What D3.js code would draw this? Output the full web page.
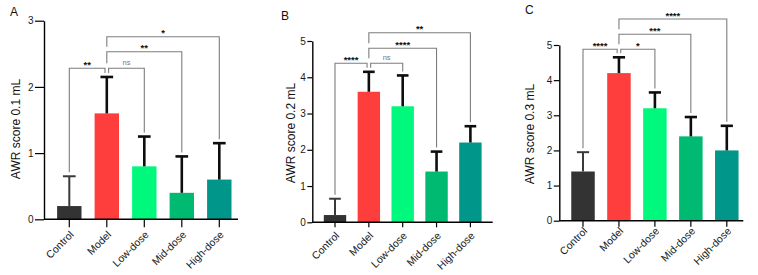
<!DOCTYPE html>
<html>
<head>
<meta charset="utf-8">
<script src="https://cdn.jsdelivr.net/npm/d3@7"></script>
<style>
  body { margin: 0; background: #fff; }
  svg { display: block; font-family: Arial, "Liberation Sans", sans-serif; }
</style>
</head>
<body>
<svg id="chart" width="758" height="275"></svg>
<script>
// groups on the x axis
const categories = ["Control", "Model", "Low-dose", "Mid-dose", "High-dose"];
const barColors = ["#333333", "#fe3d3d", "#00f87c", "#00ba72", "#00968a"];

// AWR scores, mean and SD for each volume
const meanA = [0.2, 1.6, 0.8, 0.4, 0.6];
const sdA = [0.45, 0.55, 0.45, 0.55, 0.55];
const meanB = [0.2, 3.6, 3.2, 1.4, 2.2];
const sdB = [0.45, 0.55, 0.85, 0.55, 0.45];
const meanC = [1.4, 4.2, 3.2, 2.4, 2.0];
const sdC = [0.55, 0.45, 0.45, 0.55, 0.7];

const ticksA = [0, 1, 2, 3];
const ticksB = [0, 1, 2, 3, 4, 5];
const ticksC = [0, 1, 2, 3, 4, 5];

// comparisons, all against Model
const pairs = [[0, 1], [1, 2], [1, 3], [1, 4]];
const sigA = ["**", "ns", "**", "*"];
const sigB = ["****", "ns", "****", "**"];
const sigC = ["****", "*", "***", "****"];

const svg = d3.select("#chart");

//layout of each panel
const panels = [
  { letter: "A", title: "AWR score 0.1 mL", mean: meanA, sd: sdA, ticks: ticksA, sig: sigA,
    axisX: 44, xEnd: 238, y0: 219.3, yTop: 20.7, c0: 69.3, step: 37.5, bw: 24.4,
    yTick: 9, xTick: 8, xLab: 15, letterPos: [10, 16], titlePos: [19.5, 129],
    levels: [68.3, 68.3, 51.7, 36.7] },
  { letter: "B", title: "AWR score 0.2 mL", mean: meanB, sd: sdB, ticks: ticksB, sig: sigB,
    axisX: 312.3, xEnd: 492.7, y0: 222.3, yTop: 41, c0: 335, step: 33.85, bw: 22.4,
    yTick: 5, xTick: 5, xLab: 13, letterPos: [281, 20], titlePos: [294.5, 133],
    levels: [63.3, 63.3, 48.3, 32.7] },
  { letter: "C", title: "AWR score 0.3 mL", mean: meanC, sd: sdC, ticks: ticksC, sig: sigC,
    axisX: 559.3, xEnd: 743.3, y0: 220.7, yTop: 45, c0: 583, step: 35.95, bw: 23.5,
    yTick: 5.5, xTick: 6, xLab: 10, letterPos: [525, 14], titlePos: [534, 134],
    levels: [49.3, 49.3, 34.3, 19] }
];

panels.forEach(p => drawPanel(p));

function drawPanel(p) {
  const g = svg.append("g");
  const pad = 1 - p.bw / p.step;
  const r0 = p.c0 - p.step / 2;

  const x = d3.scaleBand()
    .domain(categories)
    .range([r0, r0 + p.step * categories.length])
    .paddingInner(pad)
    .paddingOuter(pad / 2);

  const yMax = d3.max(p.ticks);
  const y = d3.scaleLinear().domain([0, yMax]).range([p.y0, p.yTop]);

  const cx = i => x(categories[i]) + x.bandwidth() / 2;
  const errTop = i => y(p.mean[i] + p.sd[i]);

  //bars
  g.selectAll("rect.bar")
    .data(categories)
    .enter()
    .append("rect")
    .attr("class", "bar")
    .attr("x", d => x(d))
    .attr("width", x.bandwidth())
    .attr("y", (d, i) => y(p.mean[i]))
    .attr("height", (d, i) => y(0) - y(p.mean[i]))
    .attr("fill", (d, i) => barColors[i]);

  //error bars, upper side only
  const capW = x.bandwidth() * 0.52;
  const err = g.selectAll("g.err")
    .data(categories)
    .enter()
    .append("g")
    .attr("stroke", (d, i) => i === 0 ? "#3a3a3a" : "#0d0d0d")
    .attr("stroke-width", (d, i) => i === 0 ? 2 : 2.6);
  err.append("line")
    .attr("x1", (d, i) => cx(i)).attr("x2", (d, i) => cx(i))
    .attr("y1", (d, i) => y(p.mean[i])).attr("y2", (d, i) => errTop(i));
  err.append("line")
    .attr("x1", (d, i) => cx(i) - capW / 2).attr("x2", (d, i) => cx(i) + capW / 2)
    .attr("y1", (d, i) => errTop(i)).attr("y2", (d, i) => errTop(i));

  //y axis
  const yAxis = g.append("g")
    .attr("transform", `translate(${p.axisX},0)`)
    .call(d3.axisLeft(y).tickValues(p.ticks).tickFormat(d3.format("d"))
      .tickSize(p.yTick).tickSizeOuter(0).tickPadding(1.5));
  yAxis.select(".domain").attr("stroke", "#000").attr("stroke-width", 1.4);
  yAxis.selectAll(".tick line").attr("stroke", "#000").attr("stroke-width", 1.2);
  yAxis.selectAll(".tick text").attr("font-size", 10).attr("fill", "#1a1a1a")
    .attr("font-family", "Arial, 'Liberation Sans', sans-serif");

  //x axis
  const xAxis = g.append("g")
    .attr("transform", `translate(0,${p.y0})`)
    .call(d3.axisBottom(x).tickSize(p.xTick).tickSizeOuter(0));
  xAxis.select(".domain").remove();
  xAxis.append("line")
    .attr("x1", p.axisX).attr("x2", p.xEnd)
    .attr("stroke", "#000").attr("stroke-width", 1.4);
  xAxis.selectAll(".tick line").attr("stroke", "#000").attr("stroke-width", 1.2);
  xAxis.selectAll(".tick text")
    .attr("font-size", 10.5).attr("fill", "#1a1a1a")
    .attr("font-family", "Arial, 'Liberation Sans', sans-serif")
    .attr("text-anchor", "end")
    .attr("y", 0).attr("dy", 0)
    .attr("transform", `translate(5,${p.xLab + 1}) rotate(-45)`);

  //axis title
  g.append("text")
    .attr("transform", `translate(${p.titlePos[0]},${p.titlePos[1]}) rotate(-90)`)
    .attr("text-anchor", "middle")
    .attr("font-size", 12)
    .attr("fill", "#111")
    .text(p.title);

  //panel letter
  g.append("text")
    .attr("x", p.letterPos[0]).attr("y", p.letterPos[1])
    .attr("font-size", 12)
    .attr("fill", "#111")
    .text(p.letter);

  //significance brackets
  pairs.forEach((pr, k) => {
    const lev = p.levels[k];
    let xa = cx(pr[0]), xb = cx(pr[1]);
    let ya, yb;
    if (k === 0) {
      xb -= 1.8;
      ya = errTop(pr[0]) - 4;
      yb = errTop(pr[1]) - 4;
    } else if (k === 1) {
      xa += 1.8;
      ya = errTop(pr[0]) - 4;
      yb = errTop(pr[1]) - 4;
    } else {
      ya = p.levels[k - 1] - 5;
      yb = errTop(pr[1]) - 4;
    }
    g.append("path")
      .attr("d", `M${xa},${ya}V${lev}H${xb}V${yb}`)
      .attr("fill", "none")
      .attr("stroke", "#7d7d7d")
      .attr("stroke-width", 1.1);

    const lab = p.sig[k];
    g.append("text")
      .attr("x", (xa + xb) / 2)
      .attr("y", lab === "ns" ? lev - 3 : lev - 0.5)
      .attr("text-anchor", "middle")
      .attr("font-size", lab === "ns" ? 7.5 : 9.5)
      .attr("font-weight", lab === "ns" ? "normal" : "bold")
      .attr("fill", lab === "ns" ? "#777" : "#111")
      .text(lab);
  });
}
</script>
</body>
</html>
